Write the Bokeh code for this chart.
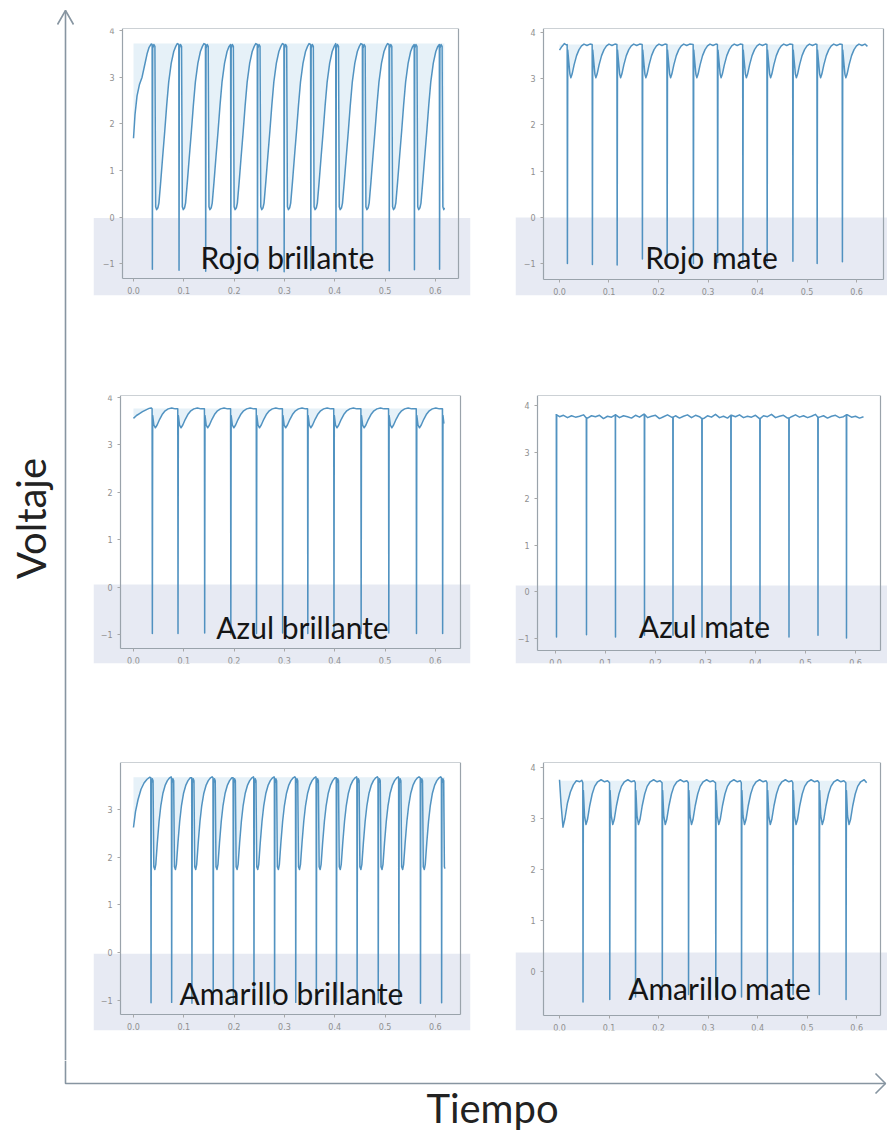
from math import pi

from bokeh.embed import file_html
from bokeh.layouts import column, row
from bokeh.models import BoxAnnotation, FixedTicker, Label, LinearAxis, Range1d
from bokeh.plotting import figure
from bokeh.resources import INLINE

# ---------------------------------------------------------------- data
x_ticks = [0.0, 0.1, 0.2, 0.3, 0.4, 0.5, 0.6]
x_tick_labels = ["0.0", "0.1", "0.2", "0.3", "0.4", "0.5", "0.6"]
y_ticks = [-1, 0, 1, 2, 3, 4]
y_tick_labels = ["\u22121", "0", "1", "2", "3", "4"]

panel_names = ["Rojo brillante", "Rojo mate", "Azul brillante",
               "Azul mate", "Amarillo brillante", "Amarillo mate"]

# Rojo brillante: spike times (s), spike minima (V), one cycle after a spike
rb_spikes = [0.037, 0.090, 0.143, 0.193, 0.246, 0.299, 0.352, 0.402, 0.455, 0.508, 0.558, 0.608]
rb_bottoms = [-1.12, -1.14, -1.16, -1.13, -1.15, -1.17, -1.14, -1.16, -1.12, -1.15, -1.13, -1.12]
rb_start = [(0.0, 1.69), (0.003, 2.2), (0.007, 2.6), (0.012, 2.85), (0.017, 3.0),
            (0.022, 3.25), (0.027, 3.5), (0.031, 3.64), (0.035, 3.71)]
rb_cycle = [(0.0, 3.70), (0.0005, None), (0.0012, 3.62), (0.0035, 3.70), (0.0055, 3.66),
            (0.0070, 0.22), (0.0090, 0.16), (0.0115, 0.20), (0.0135, 0.30), (0.0170, 0.75),
            (0.0210, 1.30), (0.0250, 1.83), (0.0290, 2.40), (0.0330, 2.90), (0.0380, 3.30),
            (0.0430, 3.55), (0.0470, 3.66), (0.0500, 3.72)]
rb_end = (0.618, 0.20)
rb_top = 3.72

# Rojo mate
rm_spikes = [0.0155, 0.066, 0.116, 0.167, 0.217, 0.270, 0.319, 0.370, 0.419, 0.471, 0.520, 0.571]
rm_bottoms = [-1.0, -1.02, -1.03, -0.9, -1.0, -1.0, -0.98, -1.0, -0.97, -0.95, -1.0, -0.96]
rm_start = [(0.0, 3.62), (0.005, 3.70), (0.010, 3.76), (0.014, 3.73)]
rm_cycle = [(0.0, 3.74), (0.0005, None), (0.0012, 3.62), (0.0030, 3.40), (0.0055, 3.10),
            (0.0075, 3.02), (0.0100, 3.10), (0.0140, 3.30), (0.0190, 3.50), (0.0240, 3.63),
            (0.0290, 3.71), (0.0340, 3.75), (0.0400, 3.72), (0.0460, 3.75)]
rm_end = (0.622, 3.70)
rm_top = 3.74

# Azul brillante
ab_spikes = [0.037, 0.088, 0.141, 0.193, 0.244, 0.296, 0.346, 0.398, 0.452, 0.507, 0.562, 0.614]
ab_bottoms = [-0.98, -0.98, -0.97, -0.99, -0.98, -0.97, -0.98, -0.99, -0.98, -0.97, -0.98, -0.98]
ab_start = [(0.0, 3.56), (0.006, 3.62), (0.012, 3.66), (0.018, 3.70), (0.025, 3.74),
            (0.031, 3.77), (0.035, 3.78)]
ab_cycle = [(0.0, 3.76), (0.0005, None), (0.0012, 3.62), (0.0035, 3.42), (0.0065, 3.36),
            (0.0100, 3.42), (0.0150, 3.54), (0.0200, 3.64), (0.0260, 3.72), (0.0320, 3.76),
            (0.0390, 3.78), (0.0460, 3.76)]
ab_end = (0.617, 3.45)
ab_top = 3.77

# Azul mate: noisy plateau sampled every 8 ms, plus short spikes
am_step = 0.008
am_level = [3.80, 3.76, 3.79, 3.74, 3.78, 3.75, 3.77, 3.80, 3.73, 3.78,
            3.76, 3.79, 3.72, 3.77, 3.75, 3.80, 3.74, 3.78, 3.76, 3.73,
            3.79, 3.75, 3.81, 3.74, 3.77, 3.79, 3.72, 3.76, 3.80, 3.75,
            3.78, 3.73, 3.77, 3.80, 3.74, 3.79, 3.76, 3.72, 3.78, 3.75,
            3.81, 3.74, 3.77, 3.73, 3.79, 3.76, 3.80, 3.74, 3.77, 3.75,
            3.79, 3.72, 3.78, 3.76, 3.81, 3.74, 3.77, 3.79, 3.73, 3.76,
            3.80, 3.75, 3.78, 3.74, 3.77, 3.81, 3.75, 3.78, 3.73, 3.77,
            3.79, 3.74, 3.76, 3.80, 3.75, 3.77, 3.73, 3.76]
am_spikes = [0.002, 0.062, 0.120, 0.178, 0.235, 0.293, 0.351, 0.409, 0.467, 0.525, 0.582]
am_bottoms = [-0.97, -0.92, -0.97, -0.93, -0.93, -0.97, -0.95, -0.93, -0.97, -0.93, -0.99]

# Amarillo brillante
yb_spikes = [0.0344, 0.0754, 0.1157, 0.158, 0.198, 0.239, 0.280, 0.322, 0.363, 0.403,
             0.444, 0.486, 0.527, 0.570, 0.612]
yb_bottoms = [-1.05, -1.04, -1.06, -1.05, -1.03, -1.05, -1.06, -1.04, -1.05, -1.03,
              -1.06, -1.05, -1.04, -1.06, -1.05]
yb_start = [(0.0, 2.62), (0.004, 2.95), (0.009, 3.2), (0.015, 3.42), (0.021, 3.55),
            (0.027, 3.63), (0.032, 3.67)]
yb_cycle = [(0.0, 3.66), (0.0005, None), (0.0012, 3.55), (0.0030, 3.64), (0.0045, 3.60),
            (0.0060, 1.80), (0.0080, 1.74), (0.0100, 1.85), (0.0130, 2.30), (0.0165, 2.75),
            (0.0200, 3.08), (0.0240, 3.33), (0.0285, 3.50), (0.0330, 3.60), (0.0375, 3.66),
            (0.0405, 3.68)]
yb_end = (0.619, 1.76)
yb_top = 3.67

# Amarillo mate
ym_spikes = [0.047, 0.101, 0.153, 0.207, 0.260, 0.315, 0.367, 0.419, 0.471, 0.524, 0.578]
ym_bottoms = [-0.6, -0.55, -0.5, -0.5, -0.45, -0.5, -0.5, -0.45, -0.45, -0.45, -0.55]
ym_start = [(0.0, 3.76), (0.003, 3.3), (0.007, 2.83), (0.011, 3.0), (0.016, 3.3),
            (0.022, 3.52), (0.028, 3.66), (0.034, 3.74), (0.041, 3.72), (0.045, 3.75)]
ym_cycle = [(0.0, 3.70), (0.0005, None), (0.0012, 3.55), (0.0035, 3.05), (0.0065, 2.88),
            (0.0095, 2.98), (0.0140, 3.25), (0.0190, 3.48), (0.0240, 3.63), (0.0300, 3.72),
            (0.0370, 3.76), (0.0440, 3.72), (0.0500, 3.74)]
ym_end = (0.620, 3.70)
ym_top = 3.74


def periodic_trace(start, spikes, bottoms, cycle, end):
    ts = [p[0] for p in start]
    vs = [p[1] for p in start]
    for i, (t0, low) in enumerate(zip(spikes, bottoms)):
        t_next = spikes[i + 1] if i + 1 < len(spikes) else end[0]
        for dt, v in cycle:
            if t0 + dt >= t_next:
                break
            ts.append(t0 + dt)
            vs.append(low if v is None else v)
    ts.append(end[0])
    vs.append(end[1])
    return ts, vs


def plateau_trace(step, level, spikes, bottoms, t_end):
    pts = [(i * step, v) for i, v in enumerate(level) if i * step <= t_end]
    for ts_, low in zip(spikes, bottoms):
        base = min(pts, key=lambda p: abs(p[0] - ts_))[1]
        pts += [(ts_ - 0.0004, base), (ts_, low), (ts_ + 0.0004, base)]
    pts.sort()
    return [p[0] for p in pts], [p[1] for p in pts]


traces = [
    periodic_trace(rb_start, rb_spikes, rb_bottoms, rb_cycle, rb_end),
    periodic_trace(rm_start, rm_spikes, rm_bottoms, rm_cycle, rm_end),
    periodic_trace(ab_start, ab_spikes, ab_bottoms, ab_cycle, ab_end),
    plateau_trace(am_step, am_level, am_spikes, am_bottoms, 0.618),
    periodic_trace(yb_start, yb_spikes, yb_bottoms, yb_cycle, yb_end),
    periodic_trace(ym_start, ym_spikes, ym_bottoms, ym_cycle, ym_end),
]
tops = [rb_top, rm_top, ab_top, None, yb_top, ym_top]

# ---------------------------------------------------------------- layout (page pixels)
# canvas origin + size, axes box with its data limits, shaded caption band,
# caption centre
panels = [
    dict(fig=(93, 0, 397, 330), box=(122, 26, 458, 278), xr=(-0.0219, 0.6461), yr=(-1.319, 4.043),
         band=(93, 217, 470, 295), label=(287, 256)),
    dict(fig=(490, 0, 397, 330), box=(543, 28, 883, 279), xr=(-0.0323, 0.6545), yr=(-1.346, 4.087),
         band=(515, 217, 887, 295), label=(711, 256)),
    dict(fig=(93, 330, 397, 370), box=(120, 395, 460, 648), xr=(-0.0258, 0.650), yr=(-1.295, 4.042),
         band=(93, 584, 470, 663), label=(302, 626)),
    dict(fig=(490, 330, 397, 370), box=(537, 395, 880, 650), xr=(-0.036, 0.650), yr=(-1.258, 4.215),
         band=(515, 585, 887, 663), label=(704, 625)),
    dict(fig=(93, 700, 397, 360), box=(120, 761, 460, 1014), xr=(-0.0258, 0.650), yr=(-1.295, 3.98),
         band=(93, 953, 470, 1030), label=(291, 992)),
    dict(fig=(490, 700, 397, 360), box=(543, 762, 880, 1015), xr=(-0.0323, 0.648), yr=(-0.863, 4.098),
         band=(515, 952, 887, 1030), label=(719, 987)),
]

LINE = "#3f87ba"
FILL = "#8fbfdf"
BAND = "#e6e9f2"
SPINE = "#9aa3ab"
TICK_TXT = "#8f8f8f"


def make_panel(spec, name, trace, top):
    ox, oy, w, h = spec["fig"]
    fl, ft, fr, fb = spec["box"]
    x0, x1 = spec["xr"]
    y0, y1 = spec["yr"]
    bl, bt, br, bb = spec["band"]

    def px_to_x(px):
        return x0 + (px - fl) * (x1 - x0) / (fr - fl)

    def py_to_y(py):
        return y1 - (py - ft) * (y1 - y0) / (fb - ft)

    # the plotting frame spans the caption band as well as the axes box
    p = figure(width=w, height=h,
               x_range=Range1d(px_to_x(bl), px_to_x(br)),
               y_range=Range1d(py_to_y(bb), y1),
               x_axis_location=None, y_axis_location=None,
               output_backend="svg", toolbar_location=None,
               min_border_left=bl - ox, min_border_right=ox + w - br,
               min_border_top=ft - oy, min_border_bottom=oy + h - bb)
    p.background_fill_color = "white"
    p.border_fill_color = "white"
    p.outline_line_color = None
    p.grid.visible = False

    p.add_layout(BoxAnnotation(top=py_to_y(bt), fill_color=BAND, fill_alpha=0.95,
                               line_color=None, level="underlay"))

    def spine(side, loc, bounds, ticks, labels):
        keep = [(tk, lb) for tk, lb in zip(ticks, labels) if bounds[0] <= tk <= bounds[1]]
        ax = LinearAxis(fixed_location=loc, bounds=bounds)
        ax.ticker = FixedTicker(ticks=[tk for tk, _ in keep])
        ax.major_label_overrides = dict(keep)
        ax.axis_line_color = SPINE
        ax.axis_line_width = 1.2
        ax.major_tick_in = 0
        ax.major_tick_out = 3 if keep else 0
        ax.major_tick_line_color = "#a8a8a8"
        ax.minor_tick_line_color = None
        ax.major_label_text_font = "DejaVu Sans"
        ax.major_label_text_font_size = "8px"
        ax.major_label_text_color = TICK_TXT
        ax.major_label_standoff = 5
        p.add_layout(ax, side)

    spine("below", y0, (x0, x1), x_ticks, x_tick_labels)
    spine("left", x0, (y0, y1), y_ticks, y_tick_labels)
    spine("right", x1, (y0, y1), [], [])
    spine("above", y1, (x0, x1), [], [])

    t, v = trace
    if top is not None:
        p.varea(x=t, y1=v, y2=[top] * len(t), fill_color=FILL, fill_alpha=0.22)
    p.line(t, v, line_color=LINE, line_width=1.5, line_alpha=0.9, line_join="round")

    lx, ly = spec["label"]
    p.add_layout(Label(x=px_to_x(lx), y=py_to_y(ly), text=name, text_align="center",
                       text_baseline="middle", text_font="Lato", text_font_size="30px",
                       text_color="#151515"))
    return p


figs = [make_panel(s, n, tr, tp) for s, n, tr, tp in zip(panels, panel_names, traces, tops)]

ARROW = "#8795a1"

# left strip: vertical arrow and "Voltaje"
LH = 1060
left = figure(width=93, height=LH, x_range=Range1d(0, 93), y_range=Range1d(0, LH),
              output_backend="svg", toolbar_location=None, min_border=0)
left.axis.visible = False
left.grid.visible = False
left.outline_line_color = None
left.line([65, 65], [0, LH - 10], line_color=ARROW, line_width=1.6)
left.line([57, 65, 73], [LH - 24, LH - 10, LH - 24], line_color=ARROW, line_width=1.6)
left.add_layout(Label(x=30, y=LH - 518, text="Voltaje", angle=pi / 2, text_align="center",
                      text_baseline="middle", text_font="Lato", text_font_size="40px",
                      text_color="#222222"))

# bottom strip: horizontal arrow and "Tiempo" (strip starts at page row 1060)
BH = 75
bottom = figure(width=887, height=BH, x_range=Range1d(0, 887), y_range=Range1d(0, BH),
                output_backend="svg", toolbar_location=None, min_border=0)
bottom.axis.visible = False
bottom.grid.visible = False
bottom.outline_line_color = None
bottom.line([65, 65, 885], [BH, 52, 52], line_color=ARROW, line_width=1.6)
bottom.line([875, 885, 875], [62, 52, 42], line_color=ARROW, line_width=1.6)
bottom.add_layout(Label(x=492, y=28, text="Tiempo", text_align="center",
                        text_baseline="middle", text_font="Lato", text_font_size="40px",
                        text_color="#222222"))

grid = column(row(figs[0], figs[1]), row(figs[2], figs[3]), row(figs[4], figs[5]))
page = column(row(left, grid), bottom)

open("out.html", "w").write(file_html(page, INLINE))
